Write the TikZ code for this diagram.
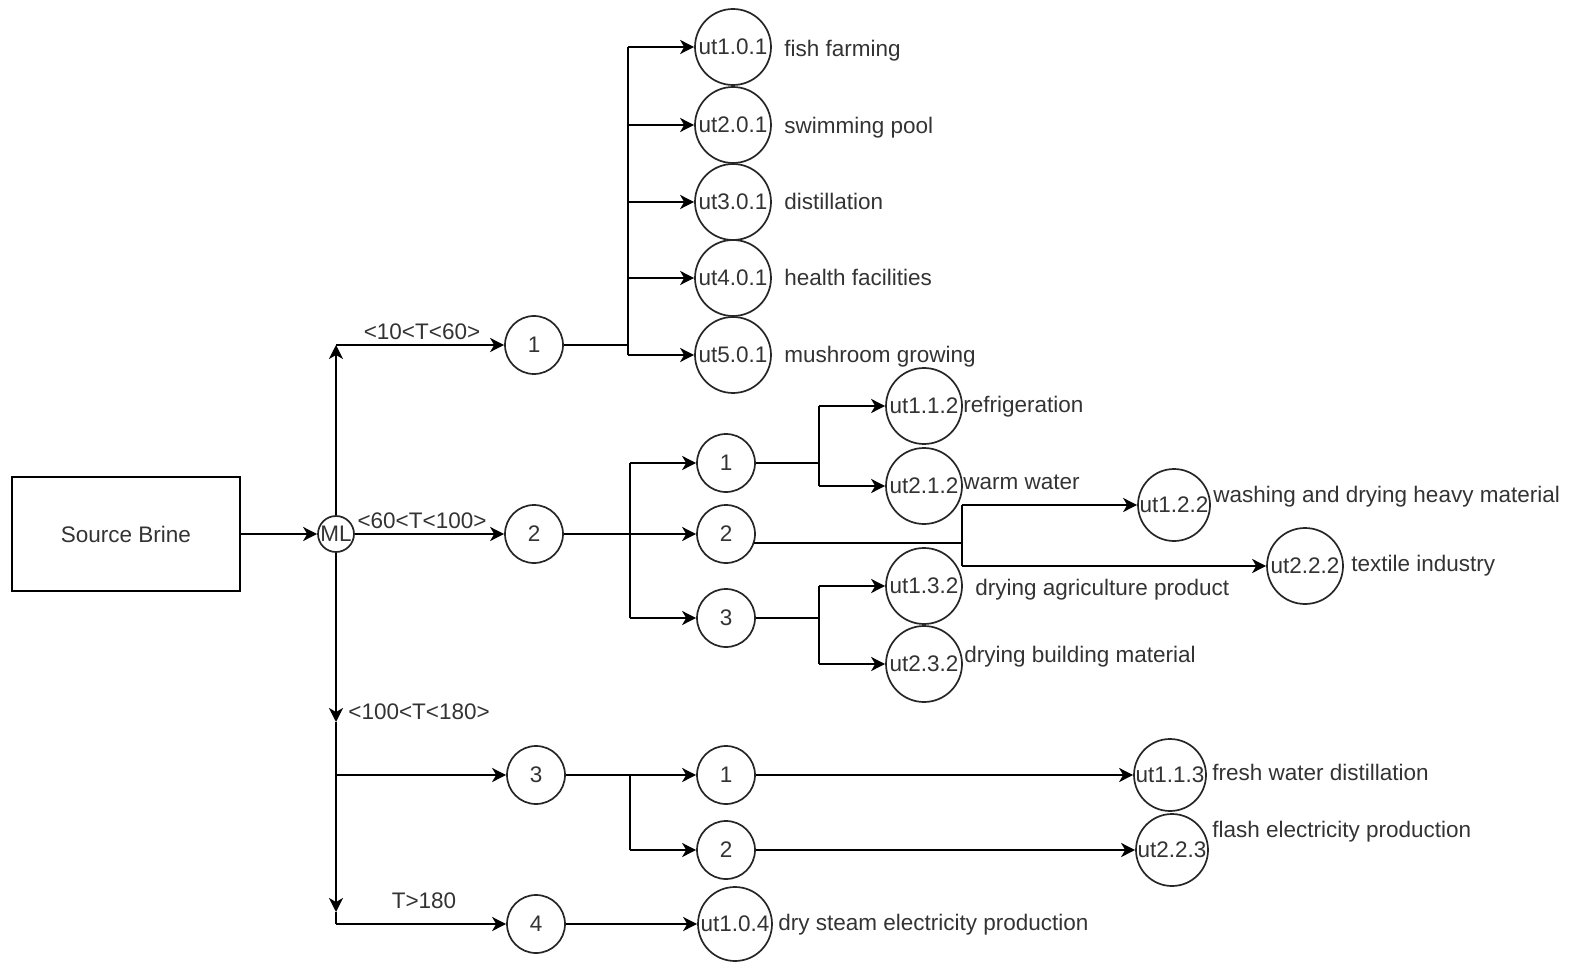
\documentclass[tikz,border=0pt]{standalone}
\usepackage{fontspec}
\setmainfont{Liberation Sans}
\usetikzlibrary{arrows.meta}
\definecolor{txt}{RGB}{51,51,51}
\tikzset{
  ln/.style={line width=1pt, draw=black},
  arr/.style={ln, -{Stealth[length=7pt,width=7pt,inset=2pt]}},
  smallc/.style={circle, draw=black!85, line width=0.85pt, minimum size=29pt, inner sep=0pt, text=txt},
  utc/.style={circle, draw=black!85, line width=0.85pt, minimum size=38pt, inner sep=0pt, text=txt},
  lbl/.style={anchor=west, inner sep=0pt, text=txt, text height=8pt, text depth=0pt},
  clbl/.style={inner sep=0pt, text=txt, text height=8pt, text depth=0pt},
}
\begin{document}
\begin{tikzpicture}[x=0.5pt,y=-0.5pt,font=\fontsize{11.25}{13}\selectfont]
\useasboundingbox (0,0) rectangle (1573,962);
% main nodes
\node[draw=black, line width=1pt, minimum width=114pt, minimum height=57pt, inner sep=0pt, text=txt] (SB) at (126,534) {Source Brine};
\node[circle, draw=black!85, line width=0.85pt, minimum size=18pt, inner sep=0pt, text=txt] (ML) at (336,534) {ML};
\node[smallc] (A1) at (534,345) {1};
\node[smallc] (A2) at (534,534) {2};
\node[smallc] (A3) at (536,775) {3};
\node[smallc] (A4) at (536,924) {4};
% top group
\node[utc] (u101) at (733,47) {ut1.0.1};
\node[utc] (u201) at (733,125) {ut2.0.1};
\node[utc] (u301) at (733,202) {ut3.0.1};
\node[utc] (u401) at (733,278) {ut4.0.1};
\node[utc] (u501) at (733,355) {ut5.0.1};
% middle group
\node[smallc] (B1) at (726,463) {1};
\node[smallc] (B2) at (726,534) {2};
\node[smallc] (B3) at (726,618) {3};
\node[utc] (u112) at (924,406) {ut1.1.2};
\node[utc] (u212) at (924,486) {ut2.1.2};
\node[utc] (u132) at (924,586) {ut1.3.2};
\node[utc] (u232) at (924,664) {ut2.3.2};
\node[utc, minimum size=36pt] (u122) at (1174,505) {ut1.2.2};
\node[utc] (u222) at (1305,566) {ut2.2.2};
% bottom group
\node[smallc] (C1) at (726,775) {1};
\node[smallc] (C2) at (726,850) {2};
\node[utc, minimum size=36pt] (u113) at (1170,775) {ut1.1.3};
\node[utc, minimum size=36pt] (u223) at (1172,850) {ut2.2.3};
\node[utc, minimum size=37pt] (u104) at (735,924) {ut1.0.4};
% coordinates for junctions
\coordinate (cUp) at (336,345);
\coordinate (cD1) at (336,722);
\coordinate (cB3) at (336,775);
\coordinate (cD2) at (336,912);
\coordinate (cD3) at (336,924);
\coordinate (s1) at (628,0);
\coordinate (s2) at (630,0);
\coordinate (s3) at (819,0);
\coordinate (s4) at (962,0);
% source to ML
\draw[arr] (SB) -- (ML);
\draw[arr] (ML) -- (cUp);
\draw[arr] (cUp) -- (A1);
\draw[arr] (ML) -- (A2);
\draw[arr] (ML) -- (cD1);
\draw[arr] (cD1) -- (cD2);
\draw[ln] (cD2) -- (cD3);
\draw[arr] (cD3) -- (A4);
\draw[arr] (cB3) -- (A3);
% top group connectors
\draw[ln] (A1) -- (A1 -| s1);
\draw[ln] (u101 -| s1) -- (u501 -| s1);
\foreach \n in {u101,u201,u301,u401,u501} \draw[arr] (\n -| s1) -- (\n);
% middle group connectors
\draw[arr] (A2) -- (B2);
\draw[ln] (B1 -| s2) -- (B3 -| s2);
\draw[arr] (B1 -| s2) -- (B1);
\draw[arr] (B3 -| s2) -- (B3);
\draw[ln] (B1) -- (B1 -| s3);
\draw[ln] (u112 -| s3) -- (u212 -| s3);
\draw[arr] (u112 -| s3) -- (u112);
\draw[arr] (u212 -| s3) -- (u212);
\draw[ln] (B3) -- (B3 -| s3);
\draw[ln] (u132 -| s3) -- (u232 -| s3);
\draw[arr] (u132 -| s3) -- (u132);
\draw[arr] (u232 -| s3) -- (u232);
\draw[ln] (B2.-18) -- (B2.-18 -| s4);
\draw[ln] (u122 -| s4) -- (u222 -| s4);
\draw[arr] (u122 -| s4) -- (u122);
\draw[arr] (u222 -| s4) -- (u222);
% bottom group connectors
\draw[ln] (A3) -- (A3 -| s2);
\draw[ln] (C1 -| s2) -- (C2 -| s2);
\draw[arr] (C1 -| s2) -- (C1);
\draw[arr] (C2 -| s2) -- (C2);
\draw[arr] (C1) -- (u113);
\draw[arr] (C2) -- (u223);
\draw[arr] (A4) -- (u104);
% branch labels
\node[clbl] (t1) at (422,332) {<10<T<60>};
\node[clbl] (t2) at (422,520) {<60<T<100>};
\node[lbl] (t3) at (348,711) {<100<T<180>};
\node[clbl] (t4) at (424,900) {T>180};
% usage labels
\node[lbl] at (784,49) {fish farming};
\node[lbl] at (784,126) {swimming pool};
\node[lbl] at (784,202) {distillation};
\node[lbl] at (784,278) {health facilities};
\node[lbl] at (784,355) {mushroom growing};
\node[lbl] at (963,405) {refrigeration};
\node[lbl] at (963,481) {warm water};
\node[lbl] at (1213,494) {washing and drying heavy material};
\node[lbl] at (1351,563) {textile industry};
\node[lbl] at (975,587) {drying agriculture product};
\node[lbl] at (964,654) {drying building material};
\node[lbl] at (1212,772) {fresh water distillation};
\node[lbl] at (1212,829) {flash electricity production};
\node[lbl] at (778,922) {dry steam electricity production};
\end{tikzpicture}
\end{document}
